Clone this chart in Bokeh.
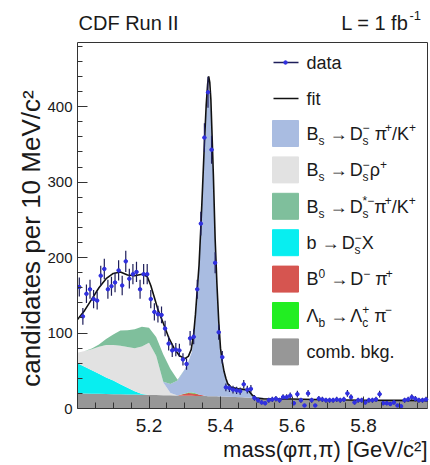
import numpy as np
from bokeh.plotting import figure
from bokeh.models import Range1d, FixedTicker, ColumnDataSource
from bokeh.core.properties import value, field
from bokeh.embed import file_html
from bokeh.resources import INLINE

# ---------------- data ----------------
mass = [5.005, 5.015, 5.025, 5.035, 5.045, 5.055, 5.065, 5.075, 5.085, 5.095,
        5.105, 5.115, 5.125, 5.135, 5.145, 5.155, 5.165, 5.175, 5.185, 5.195,
        5.205, 5.215, 5.225, 5.235, 5.245, 5.255, 5.265, 5.275, 5.285, 5.295,
        5.305, 5.315, 5.325, 5.335, 5.345, 5.355, 5.365, 5.375, 5.385, 5.395,
        5.405, 5.415, 5.425, 5.435, 5.445, 5.455, 5.465, 5.475, 5.485, 5.495,
        5.505, 5.515, 5.525, 5.535, 5.545, 5.555, 5.565, 5.575, 5.585, 5.595,
        5.605, 5.615, 5.625, 5.635, 5.645, 5.655, 5.665, 5.675, 5.685, 5.695,
        5.705, 5.715, 5.725, 5.735, 5.745, 5.755, 5.765, 5.775, 5.785, 5.795,
        5.805, 5.815, 5.825, 5.835, 5.845, 5.855, 5.865, 5.875, 5.885, 5.895,
        5.905, 5.915, 5.925, 5.935, 5.945, 5.955, 5.965, 5.975]
counts = [161, 122, 152, 158, 145, 143, 176, 185, 158, 162,
          167, 183, 163, 195, 172, 178, 181, 158, 178, 178,
          145, 128, 125, 124, 106, 86, 77, 78, 77, 65,
          59, 93, 95, 158, 245, 359, 419, 343, 193, 101,
          68, 28, 27, 25, 24, 23, 32, 25, 26, 14,
          11, 8, 7, 11, 12, 13, 11, 15, 15, 17,
          7, 19, 11, 4, 20, 11, 4, 13, 12, 11,
          11, 11, 12, 11, 12, 20, 15, 8, 11, 11,
          8, 11, 11, 12, 19, 7, 7, 6, 8, 4,
          3, 11, 12, 15, 13, 11, 11, 12]
bin_width = 0.01

fit_mass = [5.000, 5.020, 5.040, 5.060, 5.080, 5.100, 5.120, 5.140, 5.160, 5.180,
            5.195, 5.205, 5.215, 5.225, 5.240, 5.255, 5.270, 5.285, 5.300,
            5.310, 5.318, 5.325, 5.330, 5.335, 5.340, 5.345, 5.350, 5.355, 5.360,
            5.364, 5.367, 5.370, 5.373, 5.376, 5.380, 5.385, 5.390, 5.395, 5.400,
            5.405, 5.410, 5.415, 5.420, 5.430, 5.450, 5.470, 5.480, 5.490, 5.500,
            5.520, 5.600, 5.700, 5.800, 5.900, 5.979]
fit_val = [118, 130, 145, 160, 172, 179, 181, 177, 176, 178,
           175, 163, 147, 131, 113, 94, 80, 70, 66,
           69, 78, 99, 125, 158, 190, 240, 295, 352, 402,
           430, 440, 432, 410, 368, 310, 225, 165, 116, 80,
           62, 49, 40, 33, 28, 26, 25, 23, 17, 14,
           13, 12.5, 11.5, 11, 10.8, 10.5]

comp_mass = [5.00, 5.02, 5.04, 5.06, 5.08, 5.10, 5.12, 5.14, 5.16, 5.18,
             5.20, 5.22, 5.24, 5.26, 5.28, 5.30, 5.31, 5.32, 5.33, 5.34,
             5.345, 5.35, 5.355, 5.36, 5.365, 5.37, 5.375, 5.38, 5.385, 5.39,
             5.395, 5.40, 5.41, 5.42, 5.44, 5.46, 5.48, 5.50, 5.55, 5.60,
             5.70, 5.80, 5.90, 5.979]
comb_bkg = [20, 19.8, 19.6, 19.4, 19.2, 19, 18.8, 18.6, 18.4, 18.2,
            18, 17.8, 17.6, 17.4, 17.2, 17, 16.9, 16.8, 16.7, 16.6,
            16.5, 16.5, 16.4, 16.4, 16.3, 16.3, 16.2, 16.2, 16.1, 16.1,
            16, 16, 15.8, 15.6, 15.2, 14.8, 14.4, 14, 13, 12.2,
            11, 10.2, 9.8, 9.5]
b_to_dsx = [40, 35.5, 31, 26.5, 22, 18, 13.5, 9, 4.5, 1,
            0, 0, 0, 0, 0, 0, 0, 0, 0, 0,
            0, 0, 0, 0, 0, 0, 0, 0, 0, 0,
            0, 0, 0, 0, 0, 0, 0, 0, 0, 0,
            0, 0, 0, 0]
b0_to_dpi = [0, 0, 0, 0, 0, 0, 0, 0, 0, 0,
             0, 0, 0, 0, 0, 2.5, 3.5, 3.5, 3, 2,
             1.5, 1, 0.5, 0, 0, 0, 0, 0, 0, 0,
             0, 0, 0, 0, 0, 0, 0, 0, 0, 0,
             0, 0, 0, 0]
lb_to_lcpi = [0, 0, 0, 0, 0, 0, 0, 0, 0, 0,
              0, 0, 0, 0, 0, 0.5, 0.8, 0.8, 0.5, 0,
              0, 0, 0, 0, 0, 0, 0, 0, 0, 0,
              0, 0, 0, 0, 0, 0, 0, 0, 0, 0,
              0, 0, 0, 0]
bs_to_dsrho = [14, 21, 28, 36, 43, 47, 51, 54, 57, 63,
               69, 52, 17, 3, 0, 0, 0, 0, 0, 0,
               0, 0, 0, 0, 0, 0, 0, 0, 0, 0,
               0, 0, 0, 0, 0, 0, 0, 0, 0, 0,
               0, 0, 0, 0]
bs_to_dspi = [0, 0, 0, 0, 0, 0, 0, 0, 0, 0,
              0, 0, 1, 12, 20, 32, 41, 54, 98, 166,
              217, 272, 328, 376, 404, 399, 369, 289, 209, 147,
              98, 62, 32, 16, 11, 11, 9, 1, 0, 0,
              0, 0, 0, 0]
bs_to_dsstarpi = [0, 0, 1, 3, 8, 14, 20, 22, 25, 26,
                  20, 25, 36, 20, 1, 0, 0, 0, 0, 0,
                  0, 0, 0, 0, 0, 0, 0, 0, 0, 0,
                  0, 0, 0, 0, 0, 0, 0, 0, 0, 0,
                  0, 0, 0, 0]

x_ticks = [5.2, 5.4, 5.6, 5.8]
x_minor = [5.05, 5.1, 5.15, 5.25, 5.3, 5.35, 5.45, 5.5, 5.55,
           5.65, 5.7, 5.75, 5.85, 5.9, 5.95]
y_ticks = [0, 100, 200, 300, 400]
y_minor = [20, 40, 60, 80, 120, 140, 160, 180, 220, 240, 260, 280,
           320, 340, 360, 380, 420, 440, 460, 480]

title_left = "CDF Run II"
title_right = "L = 1 fb"
title_right_sup = "-1"
y_title = "candidates per 10 MeV/c²"
x_title = "mass(φπ,π) [GeV/c²]"

# legend labels as tokens: n=normal, sub, sup, ss=sub+sup stacked, gap=word space
legend_labels = [
    [("n", "B"), ("sub", "s"), ("gap",), ("n", "→"), ("gap",), ("n", "D"), ("ss", "s", "−"),
     ("gap",), ("n", "π"), ("sup", "+"), ("n", "/K"), ("sup", "+")],
    [("n", "B"), ("sub", "s"), ("gap",), ("n", "→"), ("gap",), ("n", "D"), ("ss", "s", "−"),
     ("n", "ρ"), ("sup", "+")],
    [("n", "B"), ("sub", "s"), ("gap",), ("n", "→"), ("gap",), ("n", "D"), ("ss", "s", "*−"),
     ("n", "π"), ("sup", "+"), ("n", "/K"), ("sup", "+")],
    [("n", "b"), ("gap",), ("n", "→"), ("gap",), ("n", "D"), ("ss", "s", "−"), ("n", "X")],
    [("n", "B"), ("sup", "0"), ("gap",), ("n", "→"), ("gap",), ("n", "D"), ("sup", "−"),
     ("gap",), ("n", "π"), ("sup", "+")],
    [("n", "Λ"), ("sub", "b"), ("gap",), ("n", "→"), ("gap",), ("n", "Λ"), ("ss", "c", "+"),
     ("gap",), ("n", "π"), ("sup", "−")],
    [("n", "comb. bkg.")],
]
legend_colors = ["#a9bce1", "#e2e2e2", "#7fbf9c", "#08eef0", "#d65550", "#22ee22", "#979797"]

# ---------------- geometry (page pixels; the figure sits at the page's top-left) ----------------
W_FIG, H_FIG = 430, 465
FL, FT, FR, FB = 77.0, 42.0, 427.0, 408.0   # visible plot box
X0, XV1 = 5.0, 5.979                        # x values at FL and FR
YV1 = 485.0                                 # y value at FT
px_per_x = (FR - FL) / (XV1 - X0)
px_per_y = (FB - FT) / YV1
MID = 0.35                                  # text anchor (middle) sits this many em above the baseline


def dxp(px):
    return X0 + (px - FL) / px_per_x


def dyp(py):
    return (FB - py) / px_per_y


FONT = "Liberation Sans"
TXT = "#1a1a1a"
AX = "#333333"

# the bokeh frame covers the whole canvas; the axes sit at x=5.0 and y=0
p = figure(width=W_FIG, height=H_FIG, output_backend="svg", toolbar_location=None,
           title=None, x_range=Range1d(dxp(0), dxp(W_FIG)), y_range=Range1d(dyp(H_FIG), dyp(0)),
           min_border_left=0, min_border_right=0, min_border_top=0, min_border_bottom=0)
p.grid.visible = False
p.background_fill_color = "white"
p.border_fill_color = "white"
p.outline_line_color = None

p.xaxis.fixed_location = 0
p.yaxis.fixed_location = X0
p.xaxis.ticker = FixedTicker(ticks=x_ticks, minor_ticks=x_minor)
p.yaxis.ticker = FixedTicker(ticks=y_ticks, minor_ticks=y_minor)
p.xaxis.bounds = (X0, XV1)
p.yaxis.bounds = (0, YV1)
for ax in (p.xaxis, p.yaxis):
    ax.axis_line_color = AX
    ax.major_tick_line_color = AX
    ax.minor_tick_line_color = AX
    ax.major_tick_out = 0
    ax.minor_tick_out = 0
    ax.major_label_text_font = FONT
    ax.major_label_text_color = TXT
p.xaxis.major_tick_in = 12
p.xaxis.minor_tick_in = 6
p.yaxis.major_tick_in = 10
p.yaxis.minor_tick_in = 5
p.xaxis.major_label_text_font_size = "19px"
p.yaxis.major_label_text_font_size = "15px"
p.xaxis.major_label_standoff = 10
p.yaxis.major_label_standoff = 5

# top and right sides of the box
p.line([X0, XV1], [YV1, YV1], line_color=AX, line_width=1)
p.line([XV1, XV1], [0, YV1], line_color=AX, line_width=1)

# ---------------- stacked components ----------------
cm = np.array(comp_mass)
layers = [comb_bkg, b_to_dsx, b0_to_dpi, lb_to_lcpi, bs_to_dsrho, bs_to_dspi, bs_to_dsstarpi]
layer_cols = ["#979797", "#08eef0", "#d65550", "#22ee22", "#e2e2e2", "#a9bce1", "#7fbf9c"]
lower = np.zeros(len(cm))
for vals, col in zip(layers, layer_cols):
    upper = lower + np.array(vals, dtype=float)
    p.varea(x=cm, y1=lower, y2=upper, fill_color=col, fill_alpha=1.0)
    lower = upper

# fit line
p.line(fit_mass, fit_val, line_color="#111111", line_width=1.6)

# data points
m = np.array(mass)
c = np.array(counts, dtype=float)
err = np.sqrt(c)
src = ColumnDataSource(dict(m=m, c=c, lo=c - err, hi=c + err,
                            l=m - bin_width / 2, r=m + bin_width / 2))
p.segment(x0="m", x1="m", y0="lo", y1="hi", source=src, line_color="#1e1e5a", line_width=1.2)
p.segment(x0="l", x1="r", y0="c", y1="c", source=src, line_color="#2f2fc8", line_width=1.2)
p.scatter(x="m", y="c", source=src, marker="circle", size=3.5,
          fill_color="#3030e0", line_color="#3030e0")

# ---------------- legend ----------------
WID = {"B": .667, "s": .5, "→": .84, "D": .722, "π": .58, "+": .584,
       "/": .278, "K": .667, "ρ": .58, "*": .389, "−": .584, "b": .556, "X": .667,
       "0": .556, "Λ": .667, "c": .5}


def tw(t, size):
    return sum(WID.get(ch, .556) for ch in t) * size


MAIN, SMALL, GAP = 18, 12, 5.0
seg = dict(x=[], y=[], text=[], size=[])


def put(px, baseline, t, size):
    seg["x"].append(dxp(px))
    seg["y"].append(dyp(baseline - MID * size))
    seg["text"].append(t)
    seg["size"].append(f"{size}px")


leg_x0, leg_x1, text_x = 272, 298, 306
row_data, row_fit = 62, 98
first_row, row_step = 133, 36.4

p.line([dxp(leg_x0 + 1), dxp(leg_x1)], [dyp(row_data)] * 2, line_color="#1e1e5a", line_width=1.4)
p.scatter([dxp((leg_x0 + leg_x1) / 2)], [dyp(row_data)], marker="circle", size=3.5,
          fill_color="#3030e0", line_color="#3030e0")
p.line([dxp(leg_x0 + 1), dxp(leg_x1)], [dyp(row_fit)] * 2, line_color="#111111", line_width=1.6)
put(text_x, row_data + 6.5, "data", MAIN)
put(text_x, row_fit + 6.5, "fit", MAIN)

for i, (tokens, col) in enumerate(zip(legend_labels, legend_colors)):
    cy = first_row + i * row_step
    p.quad(left=dxp(leg_x0), right=dxp(leg_x1), top=dyp(cy - 13), bottom=dyp(cy + 13),
           fill_color=col, line_color=col)
    base = cy + 6.5
    x = text_x
    for tok in tokens:
        kind = tok[0]
        if kind == "gap":
            x += GAP
        elif kind == "n":
            put(x, base, tok[1], MAIN)
            x += tw(tok[1], MAIN)
        elif kind == "sub":
            put(x, base + 5, tok[1], SMALL)
            x += tw(tok[1], SMALL)
        elif kind == "sup":
            put(x, base - 8, tok[1], SMALL)
            x += tw(tok[1], SMALL)
        else:
            put(x, base + 5, tok[1], SMALL)
            put(x, base - 8, tok[2], SMALL)
            x += max(tw(tok[1], SMALL), tw(tok[2], SMALL))

# header texts
put(78, 29, title_left, 20)
put(409, 20, title_right_sup, 13)

p.text(x="x", y="y", text="text", source=ColumnDataSource(seg),
       text_font=value(FONT), text_font_size=field("size"), text_color=TXT,
       text_align="left", text_baseline="middle")
p.text(x=[dxp(408)], y=[dyp(29 - MID * 20)], text=[title_right], text_font=value(FONT),
       text_font_size="20px", text_color=TXT, text_align="right", text_baseline="middle")

# axis titles
p.text(x=[dxp(427)], y=[dyp(457 - MID * 22)], text=[x_title], text_font=value(FONT),
       text_font_size="22px", text_color=TXT, text_align="right", text_baseline="middle")
p.text(x=[dxp(40 - MID * 26)], y=[dyp(238)], text=[y_title], text_font=value(FONT),
       text_font_size="26px", text_color=TXT, text_align="center", text_baseline="middle",
       angle=np.pi / 2)

open("out.html", "w").write(file_html(p, INLINE))
